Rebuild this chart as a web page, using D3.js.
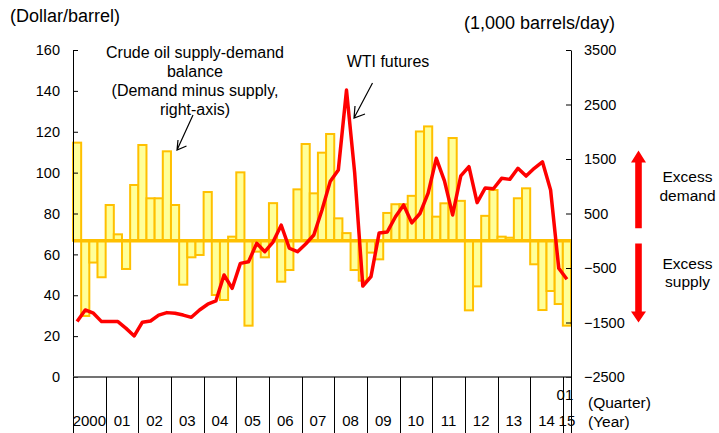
<!DOCTYPE html>
<html>
<head>
<meta charset="utf-8">
<script src="https://cdn.jsdelivr.net/npm/d3@7"></script>
<style>
  body { margin: 0; background: #fff; }
  svg { display: block; font-family: "Liberation Sans", Arial, sans-serif; }
</style>
</head>
<body>
<div id="chart"></div>
<script>
// Year labels on the bottom axis (one per year, 2015 has only Q1)
const yearLabels = ["2000", "01", "02", "03", "04", "05", "06", "07", "08", "09", "10", "11", "12", "13", "14", "15"];

// Crude oil supply-demand balance, demand minus supply (1,000 barrels/day), 2000Q1 - 2015Q1
const balance = [
    1800, -1380, -400, -670,
    656, 118, -518, 1023,
    1757, 779, 779, 1641,
    656, -806, -304, -261,
    894, -995, -1087, 75,
    1255, -1558, -200, -304,
    690, -751, -537, 943,
    1775, 870, 1616, 1959,
    411, 140, -537, -733,
    -218, -341, 510, 670,
    670, 824, 2005, 2098,
    442, 687, 1885, 732,
    -1277, -837, 457, 931,
    75, 56, 779, 962,
    -432, -1271, -922, -1161,
    -1558
];

// WTI futures (dollar/barrel), same quarters
const wti = [
    27.1, 32.8, 31.2, 27.1,
    27.1, 27.1, 23.8, 20.1,
    26.8, 27.4, 30.3, 31.5,
    31.2, 30.3, 29.2, 32.8,
    35.6, 37.2, 49.9, 43.4,
    55.6, 56.4, 65.4, 61.3,
    66.0, 74.3, 63.0, 61.3,
    65.1, 69.5, 81.7, 95.6,
    101.3, 140.4, 100.0, 44.5,
    49.1, 70.5, 71.0, 78.4,
    84.2, 75.4, 80.0, 90.0,
    107.0, 96.0, 79.3, 98.4,
    102.9, 85.3, 92.5, 92.1,
    97.2, 96.7, 102.1, 98.3,
    102.1, 105.3, 91.5, 53.2,
    47.8
];

const leftTicks = [0, 20, 40, 60, 80, 100, 120, 140, 160];
const rightTicks = [-2500, -1500, -500, 500, 1500, 2500, 3500];

function renderChart() {
    const width = 719;
    const height = 433;
    const marginTop = 50;
    const marginLeft = 73;
    const plotRight = 571;
    const plotBottom = 377;

    const quarters = balance.map((d, i) => `${yearLabels[Math.floor(i / 4)]}Q${i % 4 + 1}`);

    const svg = d3.create("svg")
        .attr("viewBox", [0, 0, width, height])
        .attr("width", width)
        .attr("height", height);

    // Scales
    const x = d3.scaleBand()
        .domain(quarters)
        .range([marginLeft, plotRight]);

    const yLeft = d3.scaleLinear([0, 160], [plotBottom, marginTop]);
    const yRight = d3.scaleLinear([-2500, 3500], [plotBottom, marginTop]);

    // Bars (right axis)
    svg.append("g")
        .selectAll("rect")
        .data(balance)
        .join("rect")
        .attr("x", (d, i) => x(quarters[i]))
        .attr("y", d => yRight(Math.max(0, d)))
        .attr("width", x.bandwidth())
        .attr("height", d => Math.abs(yRight(d) - yRight(0)))
        .attr("fill", "#ffff99")
        .attr("stroke", "#ffc000")
        .attr("stroke-width", 2);

    // Zero line of the balance
    svg.append("line")
        .attr("x1", marginLeft)
        .attr("x2", plotRight)
        .attr("y1", yRight(0))
        .attr("y2", yRight(0))
        .attr("stroke", "#ffc000")
        .attr("stroke-width", 3.5);

    // WTI line (left axis)
    const line = d3.line()
        .x((d, i) => x(quarters[i]) + x.bandwidth() / 2)
        .y(d => yLeft(d));

    svg.append("path")
        .datum(wti)
        .attr("fill", "none")
        .attr("stroke", "#ff0000")
        .attr("stroke-width", 3.5)
        .attr("stroke-linejoin", "round")
        .attr("d", line);

    // Left axis
    svg.append("g")
        .attr("transform", `translate(${marginLeft},0)`)
        .call(d3.axisLeft(yLeft).tickValues(leftTicks).tickSizeInner(-5).tickSizeOuter(0).tickPadding(13))
        .call(g => g.selectAll("text").attr("font-size", 14.5).attr("font-family", null).attr("fill", "#000"))
        .call(g => g.selectAll("line, path").attr("stroke", "#000"));

    // Right axis
    svg.append("g")
        .attr("transform", `translate(${plotRight},0)`)
        .call(d3.axisRight(yRight).tickValues(rightTicks).tickFormat(d3.format("d"))
            .tickSizeInner(-5).tickSizeOuter(0).tickPadding(13))
        .call(g => g.selectAll("text").attr("font-size", 14.5).attr("font-family", null).attr("fill", "#000"))
        .call(g => g.selectAll("line, path").attr("stroke", "#000"));

    // Bottom axis: base line, year separators and labels
    svg.append("line")
        .attr("x1", marginLeft)
        .attr("x2", plotRight)
        .attr("y1", plotBottom)
        .attr("y2", plotBottom)
        .attr("stroke", "#444")
        .attr("stroke-width", 1.5);

    const yearStarts = yearLabels.map((d, i) => x(quarters[i * 4]));
    const yearEnds = yearLabels.map((d, i) => {
        const last = quarters[Math.min(i * 4 + 3, quarters.length - 1)];
        return x(last) + x.bandwidth();
    });

    svg.append("g")
        .selectAll("line")
        .data(yearStarts.concat([plotRight]))
        .join("line")
        .attr("x1", d => Math.round(d) + 0.5)
        .attr("x2", d => Math.round(d) + 0.5)
        .attr("y1", plotBottom)
        .attr("y2", height)
        .attr("stroke", "#000");

    svg.append("g")
        .attr("font-size", 15)
        .attr("text-anchor", "middle")
        .selectAll("text")
        .data(yearLabels)
        .join("text")
        .attr("x", (d, i) => (yearStarts[i] + yearEnds[i]) / 2)
        .attr("y", 421)
        .attr("dy", "0.35em")
        .text(d => d);

    // Quarter label for the last year
    svg.append("text")
        .attr("x", x(quarters[quarters.length - 1]) + x.bandwidth() / 2 - 2)
        .attr("y", 395)
        .attr("dy", "0.35em")
        .attr("text-anchor", "middle")
        .attr("font-size", 15)
        .text("01");

    svg.append("text")
        .attr("x", 588)
        .attr("y", 403)
        .attr("dy", "0.35em")
        .attr("font-size", 15.5)
        .text("(Quarter)");

    svg.append("text")
        .attr("x", 588)
        .attr("y", 422)
        .attr("dy", "0.35em")
        .attr("font-size", 15.5)
        .text("(Year)");

    // Axis titles
    svg.append("text")
        .attr("x", 10)
        .attr("y", 16)
        .attr("dy", "0.35em")
        .attr("font-size", 18)
        .text("(Dollar/barrel)");

    svg.append("text")
        .attr("x", 464)
        .attr("y", 23)
        .attr("dy", "0.35em")
        .attr("font-size", 18)
        .text("(1,000 barrels/day)");

    // Annotations
    const balanceNote = ["Crude oil supply-demand", "balance", "(Demand minus supply,", "right-axis)"];
    svg.append("g")
        .attr("font-size", 16)
        .attr("text-anchor", "middle")
        .selectAll("text")
        .data(balanceNote)
        .join("text")
        .attr("x", 195)
        .attr("y", (d, i) => 52 + i * 19.2)
        .attr("dy", "0.35em")
        .text(d => d);

    svg.append("text")
        .attr("x", 388)
        .attr("y", 61)
        .attr("dy", "0.35em")
        .attr("font-size", 16)
        .attr("text-anchor", "middle")
        .text("WTI futures");

    const pointers = [
        "M193,115 L177,150 M178,140 L177,150 L186.5,146",
        "M372.5,83 L354,118 M355,106 L354,118 L365,114"
    ];
    svg.append("g")
        .selectAll("path")
        .data(pointers)
        .join("path")
        .attr("d", d => d)
        .attr("fill", "none")
        .attr("stroke", "#000")
        .attr("stroke-width", 1.2);

    // Excess demand / supply arrows
    const ax = 638.5;
    const up = [
        [ax - 3.3, yRight(230)], [ax - 3.3, 162.5], [ax - 7.5, 162.5], [ax, 150.5],
        [ax + 7.5, 162.5], [ax + 3.3, 162.5], [ax + 3.3, yRight(230)]
    ];
    const down = [
        [ax - 3.3, yRight(-50)], [ax - 3.3, 311.5], [ax - 7.5, 311.5], [ax, 322.5],
        [ax + 7.5, 311.5], [ax + 3.3, 311.5], [ax + 3.3, yRight(-50)]
    ];
    svg.append("g")
        .selectAll("polygon")
        .data([up, down])
        .join("polygon")
        .attr("points", d => d.map(p => p.join(",")).join(" "))
        .attr("fill", "#ff0000");

    const sideNotes = [
        {text: "Excess", y: 177},
        {text: "demand", y: 195.5},
        {text: "Excess", y: 263.5},
        {text: "supply", y: 282}
    ];
    svg.append("g")
        .attr("font-size", 15.5)
        .attr("text-anchor", "middle")
        .selectAll("text")
        .data(sideNotes)
        .join("text")
        .attr("x", 687.5)
        .attr("y", d => d.y)
        .attr("dy", "0.35em")
        .text(d => d.text);

    document.getElementById("chart").appendChild(svg.node());
}

renderChart();
</script>
</body>
</html>
